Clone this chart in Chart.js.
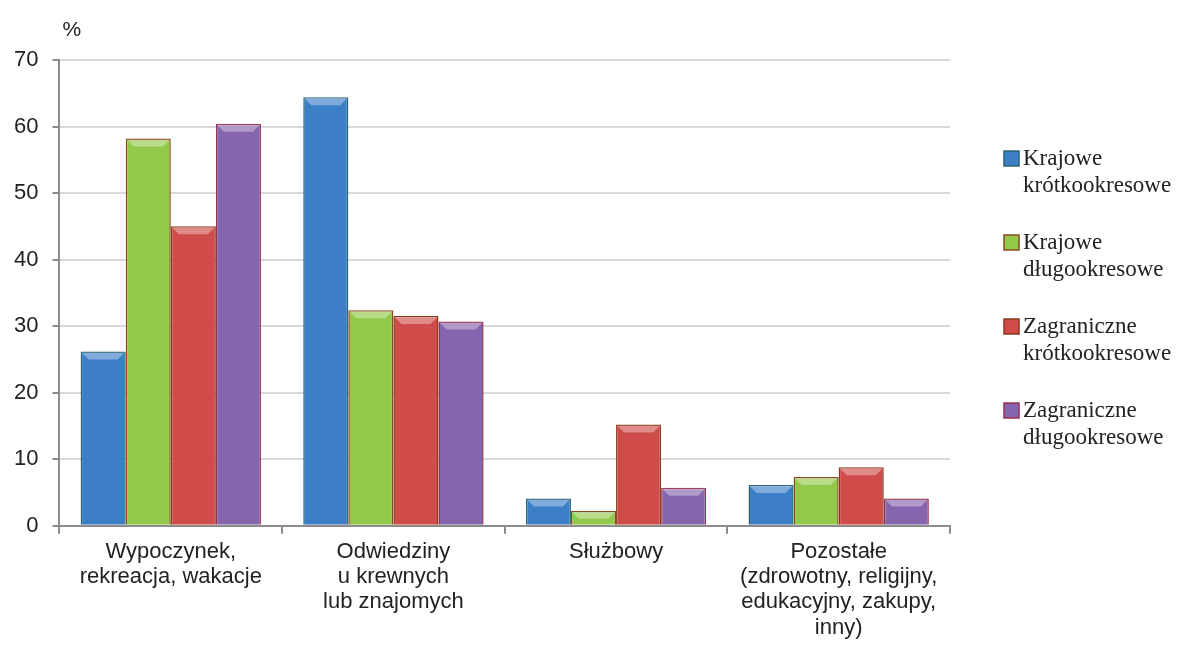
<!DOCTYPE html>
<html>
<head>
<meta charset="utf-8">
<script src="https://cdn.jsdelivr.net/npm/chart.js@4/dist/chart.umd.min.js"></script>
<style>
  html, body { margin: 0; padding: 0; background: #fff; }
  #wrap { width: 1181px; height: 648px; position: relative; }
</style>
</head>
<body>
<div id="wrap"><canvas id="chart"></canvas></div>
<script>
// categories (multi-line labels)
var categories = [
    ["Wypoczynek,", "rekreacja, wakacje"],
    ["Odwiedziny", "u krewnych", "lub znajomych"],
    ["Służbowy"],
    ["Pozostałe", "(zdrowotny, religijny,", "edukacyjny, zakupy,", "inny)"]
];

// series names (two lines each in the legend)
var seriesNames = [
    ["Krajowe", "krótkookresowe"],
    ["Krajowe", "długookresowe"],
    ["Zagraniczne", "krótkookresowe"],
    ["Zagraniczne", "długookresowe"]
];

// values in %
var krajoweKrotko = [26.2, 64.4, 4.1, 6.1];
var krajoweDlugo = [58.2, 32.4, 2.2, 7.3];
var zagraniczneKrotko = [45.0, 31.5, 15.2, 8.8];
var zagraniczneDlugo = [60.4, 30.7, 5.7, 4.1];

var fills = ['#3d7fc6', '#92c94a', '#cf4c4a', '#8565ad'];
var edges = ['#2a6676', '#8a4a1c', '#8a3a1c', '#9a3050'];

// bevel highlight on top of every bar + legend + "%" label
var decoPlugin = {
    id: 'deco',
    afterDatasetsDraw: function (chart) {
        var ctx = chart.ctx;
        ctx.save();
        chart.data.datasets.forEach(function (ds, i) {
            var meta = chart.getDatasetMeta(i);
            meta.data.forEach(function (bar) {
                var l = bar.x - bar.width / 2 + 1, r = bar.x + bar.width / 2 - 1;
                var t = bar.y + 1, h = Math.min(7, (bar.base - bar.y) / 2);
                ctx.fillStyle = 'rgba(255,255,255,0.35)';
                ctx.beginPath();
                ctx.moveTo(l, t);
                ctx.lineTo(r, t);
                ctx.lineTo(r - h, t + h);
                ctx.lineTo(l + h, t + h);
                ctx.closePath();
                ctx.fill();
            });
        });
        ctx.restore();
    },
    afterDraw: function (chart) {
        var ctx = chart.ctx;
        ctx.save();
        // "%" unit label
        ctx.fillStyle = '#222';
        ctx.font = '21px "Liberation Sans", Arial, sans-serif';
        ctx.textBaseline = 'alphabetic';
        ctx.textAlign = 'left';
        ctx.fillText('%', chart.chartArea.left + 3, 36);

        // legend
        var bx = 1004, by = 151;
        ctx.font = '23px "Liberation Serif", "Times New Roman", serif';
        seriesNames.forEach(function (name, i) {
            var y = by + i * 84;
            ctx.fillStyle = fills[i];
            ctx.fillRect(bx, y, 15, 15);
            ctx.strokeStyle = edges[i];
            ctx.lineWidth = 1.5;
            ctx.strokeRect(bx, y, 15, 15);
            ctx.fillStyle = '#222';
            ctx.fillText(name[0], bx + 19, y + 14);
            ctx.fillText(name[1], bx + 19, y + 41);
        });
        ctx.restore();
    }
};

var ctx = document.getElementById('chart').getContext('2d');
var chart = new Chart(ctx, {
    type: 'bar',
    data: {
        labels: categories,
        datasets: [{
            label: seriesNames[0].join(' '),
            data: krajoweKrotko,
            backgroundColor: fills[0],
            borderColor: edges[0],
            borderWidth: 1.5
        }, {
            label: seriesNames[1].join(' '),
            data: krajoweDlugo,
            backgroundColor: fills[1],
            borderColor: edges[1],
            borderWidth: 1.5
        }, {
            label: seriesNames[2].join(' '),
            data: zagraniczneKrotko,
            backgroundColor: fills[2],
            borderColor: edges[2],
            borderWidth: 1.5
        }, {
            label: seriesNames[3].join(' '),
            data: zagraniczneDlugo,
            backgroundColor: fills[3],
            borderColor: edges[3],
            borderWidth: 1.5
        }]
    },
    options: {
        responsive: true,
        maintainAspectRatio: false,
        animation: false,
        categoryPercentage: 0.81,
        barPercentage: 1.0,
        layout: {
            padding: { left: 0, right: 231, top: 60, bottom: 2 }
        },
        plugins: {
            legend: { display: false },
            tooltip: { enabled: false }
        },
        scales: {
            x: {
                grid: {
                    drawOnChartArea: false,
                    tickLength: 8,
                    tickColor: '#8c8c8c',
                    lineWidth: 2
                },
                border: { color: '#8c8c8c', width: 2 },
                ticks: {
                    color: '#222',
                    padding: 6,
                    maxRotation: 0,
                    font: { family: '"Liberation Sans", Arial, sans-serif', size: 22, lineHeight: 1.14 }
                }
            },
            y: {
                min: 0,
                max: 70,
                ticks: {
                    stepSize: 10,
                    color: '#222',
                    padding: 14,
                    font: { family: '"Liberation Sans", Arial, sans-serif', size: 22 }
                },
                grid: {
                    color: '#d9d9d9',
                    lineWidth: 2,
                    tickLength: 7,
                    tickColor: '#8c8c8c'
                },
                border: { color: '#8c8c8c', width: 2 }
            }
        }
    },
    plugins: [decoPlugin]
});
</script>
</body>
</html>
